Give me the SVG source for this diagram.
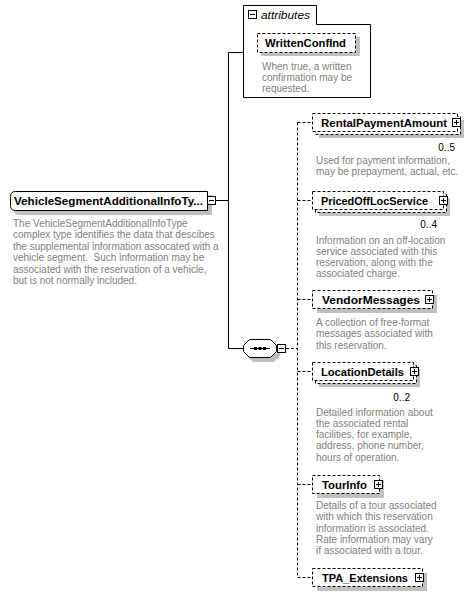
<svg xmlns="http://www.w3.org/2000/svg" xmlns:xlink="http://www.w3.org/1999/xlink" width="476" height="597" viewBox="0 0 476 597">
<style>
.box{fill:#fff;stroke:#000;stroke-width:1;stroke-dasharray:3,2}
.solid{fill:#fff;stroke:#000;stroke-width:1}
.shadow{fill:#c0c0c0;stroke:none}
.name{font-family:"Liberation Sans",Arial,sans-serif;font-size:11px;font-weight:bold;fill:#000}
.desc{font-family:"Liberation Sans",Arial,sans-serif;font-size:10px;fill:#808080}
.occ{font-family:"Liberation Sans",Arial,sans-serif;font-size:10px;fill:#000}
.ital{font-family:"Liberation Sans",Arial,sans-serif;font-size:11px;font-style:italic;fill:#000}
.line{stroke:#000;stroke-width:1;fill:none}
.dash{stroke:#000;stroke-width:1;fill:none;stroke-dasharray:3,2}
</style>
<defs>
<g id="plus"><rect x="0.5" y="0.5" width="8" height="8" fill="#fff" stroke="#000"/><path d="M2,4.5H7M4.5,2V7" stroke="#000"/></g>
<g id="minus"><rect x="0.5" y="0.5" width="8" height="8" fill="#fff" stroke="#000"/><path d="M2,4.5H7" stroke="#000"/></g>
</defs>
<g id="connectors">
<path class="line" d="M216,200.5H228.5M228.5,52.5V348.5M228.5,52.5H243.5M228.5,348.5H243.5"/>
<path class="dash" d="M286,348.5H297.5M297.5,122.5V577.5M297.5,122.5H312.5M297.5,200.5H312.5M297.5,299.5H312.5M297.5,371.5H312.5M297.5,484.5H312.5M297.5,577.5H312.5"/>
</g>
<g id="VehicleSegmentAdditionalInfoType">
<path class="shadow" d="M19,195H212V215H19Q14,215 14,210V200Q14,195 19,195Z"/>
<path class="solid" d="M15.5,191.5H207.5V210.5H15.5Q10.5,210.5 10.5,205.5V196.5Q10.5,191.5 15.5,191.5Z"/>
<text class="name" x="14" y="204.5" textLength="189" lengthAdjust="spacingAndGlyphs">VehicleSegmentAdditionalInfoTy...</text>
<use xlink:href="#minus" x="207" y="196"/>
<text class="desc" x="13" y="226.5">The VehicleSegmentAdditionalInfoType</text>
<text class="desc" x="13" y="238">complex type identifies the data that descibes</text>
<text class="desc" x="13" y="249.5">the supplemental information assocated with a</text>
<text class="desc" x="13" y="261">vehicle segment.&#160; Such information may be</text>
<text class="desc" x="13" y="272.5">associated with the reservation of a vehicle,</text>
<text class="desc" x="13" y="284">but is not normally included.</text>
</g>
<g id="attributes">
<path class="solid" d="M243.5,5.5H316.5V24.5H370.5V97.5H243.5Z"/>
<use xlink:href="#minus" x="248" y="10"/>
<text class="ital" x="261" y="19" textLength="49" lengthAdjust="spacingAndGlyphs">attributes</text>
</g>
<g id="WrittenConfInd">
<rect class="shadow" x="261" y="37" width="99" height="19"/>
<rect class="box" x="257.5" y="33.5" width="98" height="19"/>
<text class="name" x="265" y="47" textLength="81" lengthAdjust="spacingAndGlyphs">WrittenConfInd</text>
<text class="desc" x="262" y="69.5">When true, a written</text>
<text class="desc" x="262" y="80.8">confirmation may be</text>
<text class="desc" x="262" y="92.1">requested.</text>
</g>
<g id="sequence">
<path class="shadow" d="M253,344H274L280,350V356L274,362H253L247,356V350Z"/>
<path class="solid" d="M249.5,339.5H270.5L276.5,345.5V351.5L270.5,357.5H249.5L243.5,351.5V345.5Z"/>
<path class="line" d="M250,348.5H270"/>
<rect x="254" y="347" width="3" height="3" fill="#000"/>
<rect x="258.5" y="347" width="3" height="3" fill="#000"/>
<rect x="263" y="347" width="3" height="3" fill="#000"/>
<use xlink:href="#minus" x="277" y="344"/>
</g>
<g id="RentalPaymentAmount">
<rect class="shadow" x="319" y="120" width="145" height="18"/>
<rect class="box" x="315.5" y="116.5" width="145" height="18"/>
<rect class="box" x="312.5" y="113.5" width="145" height="18"/>
<text class="name" x="321" y="126.5" textLength="126" lengthAdjust="spacingAndGlyphs">RentalPaymentAmount</text>
<use xlink:href="#plus" x="452" y="118"/>
<text class="occ" x="455" y="151" text-anchor="end">0..5</text>
<text class="desc" x="316" y="163.5">Used for payment information,</text>
<text class="desc" x="316" y="175">may be prepayment, actual, etc.</text>
</g>
<g id="PricedOffLocService">
<rect class="shadow" x="319" y="198" width="131" height="18"/>
<rect class="box" x="315.5" y="194.5" width="131" height="18"/>
<rect class="box" x="312.5" y="191.5" width="131" height="18"/>
<text class="name" x="321" y="204.5" textLength="107" lengthAdjust="spacingAndGlyphs">PricedOffLocService</text>
<use xlink:href="#plus" x="439" y="196"/>
<text class="occ" x="437" y="228" text-anchor="end">0..4</text>
<text class="desc" x="316" y="243.5">Information on an off-location</text>
<text class="desc" x="316" y="254.8">service associated with this</text>
<text class="desc" x="316" y="266.1">reservation, along with the</text>
<text class="desc" x="316" y="277.4">associated charge.</text>
</g>
<g id="VendorMessages">
<rect class="shadow" x="317" y="295" width="120" height="18"/>
<rect class="box" x="312.5" y="290.5" width="120" height="18"/>
<text class="name" x="322" y="303.5" textLength="98" lengthAdjust="spacingAndGlyphs">VendorMessages</text>
<use xlink:href="#plus" x="425" y="295"/>
<text class="desc" x="316" y="326">A collection of free-format</text>
<text class="desc" x="316" y="337.3">messages associated with</text>
<text class="desc" x="316" y="348.6">this reservation.</text>
</g>
<g id="LocationDetails">
<rect class="shadow" x="319" y="369" width="101" height="18"/>
<rect class="box" x="315.5" y="365.5" width="101" height="18"/>
<rect class="box" x="312.5" y="362.5" width="101" height="18"/>
<text class="name" x="321" y="375.5" textLength="83" lengthAdjust="spacingAndGlyphs">LocationDetails</text>
<use xlink:href="#plus" x="410" y="367"/>
<text class="occ" x="410" y="401" text-anchor="end">0..2</text>
<text class="desc" x="316" y="415.5">Detailed information about</text>
<text class="desc" x="316" y="426.8">the associated rental</text>
<text class="desc" x="316" y="438.1">facilities, for example,</text>
<text class="desc" x="316" y="449.4">address, phone number,</text>
<text class="desc" x="316" y="460.7">hours of operation.</text>
</g>
<g id="TourInfo">
<rect class="shadow" x="317" y="480" width="67" height="18"/>
<rect class="box" x="312.5" y="475.5" width="67" height="18"/>
<text class="name" x="322" y="488.5" textLength="45" lengthAdjust="spacingAndGlyphs">TourInfo</text>
<use xlink:href="#plus" x="374" y="480"/>
<text class="desc" x="316" y="509">Details of a tour associated</text>
<text class="desc" x="316" y="520.3">with which this reservation</text>
<text class="desc" x="316" y="531.6">information is associated.</text>
<text class="desc" x="316" y="542.9">Rate information may vary</text>
<text class="desc" x="316" y="554.2">if associated with a tour.</text>
</g>
<g id="TPA_Extensions">
<rect class="shadow" x="317" y="573" width="110" height="18"/>
<rect class="box" x="312.5" y="568.5" width="110" height="18"/>
<text class="name" x="322" y="581.5" textLength="86" lengthAdjust="spacingAndGlyphs">TPA_Extensions</text>
<use xlink:href="#plus" x="415" y="573"/>
</g>
</svg>
